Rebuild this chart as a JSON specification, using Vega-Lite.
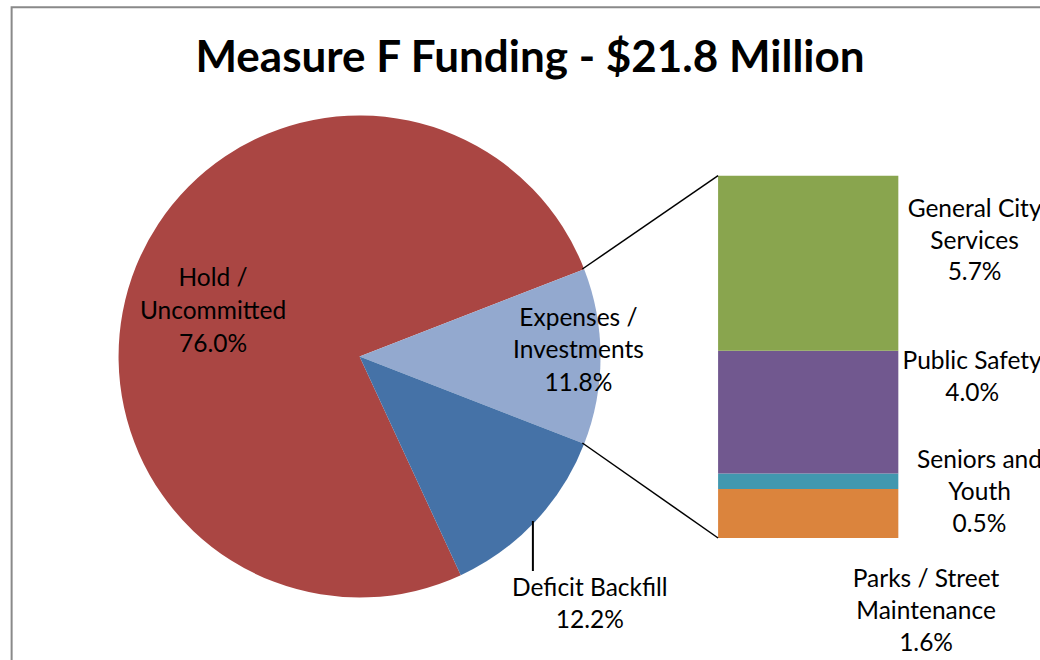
{
  "$schema": "https://vega.github.io/schema/vega-lite/v6.json",
  "width": 1040,
  "height": 660,
  "padding": 0,
  "autosize": {"type": "none"},
  "background": "#ffffff",
  "config": {"view": {"stroke": null}},
  "title": {
    "text": "Measure F Funding - $21.8 Million",
    "font": "Lato",
    "fontSize": 44,
    "fontWeight": "bold",
    "color": "#000000",
    "anchor": "middle",
    "frame": "group",
    "baseline": "alphabetic",
    "offset": -116,
    "dx": 10
  },
  "datasets": {
    "pie": [
      {"category": "Hold / Uncommitted", "pct": 76.0, "order": 1, "lines": ["Hold /", "Uncommitted", "76.0%"]},
      {"category": "Expenses / Investments", "pct": 11.8, "order": 2, "lines": ["Expenses /", "Investments", "11.8%"]},
      {"category": "Deficit Backfill", "pct": 12.2, "order": 3, "lines": ["Deficit Backfill", "12.2%"]}
    ],
    "breakdown": [
      {"category": "Parks / Street Maintenance", "pct": 1.6, "order": 1, "lines": ["Parks / Street", "Maintenance", "1.6%"]},
      {"category": "Seniors and Youth", "pct": 0.5, "order": 2, "lines": ["Seniors and", "Youth", "0.5%"]},
      {"category": "Public Safety", "pct": 4.0, "order": 3, "lines": ["Public Safety", "4.0%"]},
      {"category": "General City Services", "pct": 5.7, "order": 4, "lines": ["General City", "Services", "5.7%"]}
    ]
  },
  "layer": [
    {
      "data": {"values": [{}]},
      "mark": {"type": "rect", "fill": null, "stroke": "#898989", "strokeWidth": 2},
      "encoding": {
        "x": {"datum": -23.235, "type": "quantitative", "scale": {"domain": [-23.453, 10.423], "nice": false, "zero": false}, "axis": null},
        "x2": {"datum": 12},
        "y": {"datum": 17.287, "type": "quantitative", "scale": {"domain": [-3.974, 17.524], "nice": false, "zero": false}, "axis": null},
        "y2": {"datum": -6}
      }
    },
    {
      "data": {"name": "pie"},
      "mark": {"type": "arc", "radius": 241},
      "encoding": {
        "x": {"datum": -11.792, "type": "quantitative", "scale": {"domain": [-23.453, 10.423], "nice": false, "zero": false}, "axis": null},
        "y": {"datum": 5.912, "type": "quantitative", "scale": {"domain": [-3.974, 17.524], "nice": false, "zero": false}, "axis": null},
        "theta": {"field": "pct", "type": "quantitative", "stack": true, "scale": {"range": [2.70805, 8.99124]}},
        "order": {"field": "order", "type": "quantitative"},
        "color": {
          "field": "category", "type": "nominal", "legend": null,
          "scale": {
            "domain": ["Hold / Uncommitted", "Expenses / Investments", "Deficit Backfill", "General City Services", "Public Safety", "Seniors and Youth", "Parks / Street Maintenance"],
            "range": ["#AA4643", "#93A9CF", "#4572A7", "#89A54E", "#71588F", "#4198AF", "#DB843D"]
          }
        }
      }
    },
    {
      "data": {"name": "breakdown"},
      "mark": {"type": "bar", "orient": "vertical"},
      "encoding": {
        "x": {"datum": 0, "type": "quantitative", "scale": {"domain": [-23.453, 10.423], "nice": false, "zero": false}, "axis": null},
        "x2": {"datum": 5.928},
        "y": {"field": "pct", "type": "quantitative", "stack": "zero", "scale": {"domain": [-3.974, 17.524], "nice": false, "zero": false}, "axis": null},
        "order": {"field": "order", "type": "quantitative"},
        "color": {
          "field": "category", "type": "nominal", "legend": null,
          "scale": {
            "domain": ["Hold / Uncommitted", "Expenses / Investments", "Deficit Backfill", "General City Services", "Public Safety", "Seniors and Youth", "Parks / Street Maintenance"],
            "range": ["#AA4643", "#93A9CF", "#4572A7", "#89A54E", "#71588F", "#4198AF", "#DB843D"]
          }
        }
      }
    },
    {
      "data": {"values": [{}]},
      "mark": {"type": "rule", "color": "#000000", "strokeWidth": 1.5},
      "encoding": {
        "x": {"datum": -4.463, "type": "quantitative"},
        "y": {"datum": 8.762, "type": "quantitative"},
        "x2": {"datum": 0},
        "y2": {"datum": 11.8}
      }
    },
    {
      "data": {"values": [{}]},
      "mark": {"type": "rule", "color": "#000000", "strokeWidth": 1.5},
      "encoding": {
        "x": {"datum": -4.463, "type": "quantitative"},
        "y": {"datum": 3.094, "type": "quantitative"},
        "x2": {"datum": 0},
        "y2": {"datum": 0}
      }
    },
    {
      "data": {"values": [{}]},
      "mark": {"type": "rule", "color": "#000000", "strokeWidth": 2},
      "encoding": {
        "x": {"datum": -6.091, "type": "quantitative"},
        "y": {"datum": 0.554, "type": "quantitative"},
        "y2": {"datum": -1.075}
      }
    },
    {
      "data": {"name": "pie"},
      "transform": [{"filter": "datum.category === 'Hold / Uncommitted'"}],
      "mark": {"type": "text", "font": "Lato", "fontSize": 24.5, "color": "#000000", "align": "center", "baseline": "alphabetic", "lineHeight": 33},
      "encoding": {"x": {"datum": -16.612, "type": "quantitative"}, "y": {"datum": 8.208, "type": "quantitative"}, "text": {"field": "lines", "type": "nominal"}}
    },
    {
      "data": {"name": "pie"},
      "transform": [{"filter": "datum.category === 'Expenses / Investments'"}],
      "mark": {"type": "text", "font": "Lato", "fontSize": 24.5, "color": "#000000", "align": "center", "baseline": "alphabetic", "lineHeight": 32.5},
      "encoding": {"x": {"datum": -4.593, "type": "quantitative"}, "y": {"datum": 6.906, "type": "quantitative"}, "text": {"field": "lines", "type": "nominal"}}
    },
    {
      "data": {"name": "pie"},
      "transform": [{"filter": "datum.category === 'Deficit Backfill'"}],
      "mark": {"type": "text", "font": "Lato", "fontSize": 24.5, "color": "#000000", "align": "center", "baseline": "alphabetic", "lineHeight": 32},
      "encoding": {"x": {"datum": -4.218, "type": "quantitative"}, "y": {"datum": -1.889, "type": "quantitative"}, "text": {"field": "lines", "type": "nominal"}}
    },
    {
      "data": {"name": "breakdown"},
      "transform": [{"filter": "datum.category === 'General City Services'"}],
      "mark": {"type": "text", "font": "Lato", "fontSize": 24.5, "color": "#000000", "align": "center", "baseline": "alphabetic", "lineHeight": 31.5},
      "encoding": {"x": {"datum": 8.436, "type": "quantitative"}, "y": {"datum": 10.45, "type": "quantitative"}, "text": {"field": "lines", "type": "nominal"}}
    },
    {
      "data": {"name": "breakdown"},
      "transform": [{"filter": "datum.category === 'Public Safety'"}],
      "mark": {"type": "text", "font": "Lato", "fontSize": 24.5, "color": "#000000", "align": "center", "baseline": "alphabetic", "lineHeight": 32.5},
      "encoding": {"x": {"datum": 8.355, "type": "quantitative"}, "y": {"datum": 5.505, "type": "quantitative"}, "text": {"field": "lines", "type": "nominal"}}
    },
    {
      "data": {"name": "breakdown"},
      "transform": [{"filter": "datum.category === 'Seniors and Youth'"}],
      "mark": {"type": "text", "font": "Lato", "fontSize": 24.5, "color": "#000000", "align": "center", "baseline": "alphabetic", "lineHeight": 32},
      "encoding": {"x": {"datum": 8.599, "type": "quantitative"}, "y": {"datum": 2.28, "type": "quantitative"}, "text": {"field": "lines", "type": "nominal"}}
    },
    {
      "data": {"name": "breakdown"},
      "transform": [{"filter": "datum.category === 'Parks / Street Maintenance'"}],
      "mark": {"type": "text", "font": "Lato", "fontSize": 24.5, "color": "#000000", "align": "center", "baseline": "alphabetic", "lineHeight": 32},
      "encoding": {"x": {"datum": 6.84, "type": "quantitative"}, "y": {"datum": -1.596, "type": "quantitative"}, "text": {"field": "lines", "type": "nominal"}}
    }
  ]
}
